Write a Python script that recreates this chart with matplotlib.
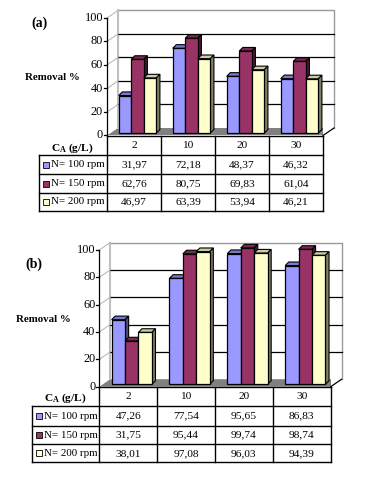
import matplotlib
matplotlib.use("Agg")
import matplotlib.pyplot as plt

plt.rcParams['font.family'] = ['Liberation Serif', 'DejaVu Serif']
plt.rcParams['mathtext.fontset'] = 'custom'
plt.rcParams['mathtext.rm'] = 'Liberation Serif'
plt.rcParams['mathtext.it'] = 'Liberation Serif:italic'
plt.rcParams['mathtext.bf'] = 'Liberation Serif:bold'

W, H = 377, 490

categories = ['2', '10', '20', '30']
series_names = ['N= 100 rpm', 'N= 150 rpm', 'N= 200 rpm']
yticks = [0, 20, 40, 60, 80, 100]

values_a = [[31.97, 72.18, 48.37, 46.32],
            [62.76, 80.75, 69.83, 61.04],
            [46.97, 63.39, 53.94, 46.21]]
labels_a = [['31,97', '72,18', '48,37', '46,32'],
            ['62,76', '80,75', '69,83', '61,04'],
            ['46,97', '63,39', '53,94', '46,21']]

values_b = [[47.26, 77.54, 95.65, 86.83],
            [31.75, 95.44, 99.74, 98.74],
            [38.01, 97.08, 96.03, 94.39]]
labels_b = [['47,26', '77,54', '95,65', '86,83'],
            ['31,75', '95,44', '99,74', '98,74'],
            ['38,01', '97,08', '96,03', '94,39']]

# front, top, side
colors = [('#9999FF', '#7A7ACC', '#4C4C80'),
          ('#993366', '#7A2952', '#4C1933'),
          ('#FFFFCC', '#CCCCA3', '#808066')]


def ftext(x, y, s, **kw):
    kw.setdefault('ha', 'center')
    kw.setdefault('va', 'center')
    fig.text(x / W, 1 - y / H, s, **kw)


def panel(left, right, y0, y100, values, labels, rows, tleft, tag, tag_xy, rem_xy, ca_xy,
          fs=8.2):
    ax = fig.add_axes([left / W, 1 - y0 / H, (right - left) / W, (y0 - y100) / H])
    ax.set_xlim(0, 4)
    ax.set_ylim(0, 100)
    ax.axis('off')
    sx = 4 / (right - left)      # data per pixel
    sy = 100 / (y0 - y100)
    dx, dy = 11 * sx, 7.5 * sy   # depth of the floor
    bx, by = 3.6 * sx, 3.6 * sy  # depth of a bar
    base = 2.4 * sy

    # walls and floor
    ax.fill([0, dx, 4 + dx, 4], [0, dy, dy, 0], color='#808080', lw=0, zorder=1)
    ax.plot([4, 4 + dx], [0, dy], color='k', lw=0.9, clip_on=False, zorder=2)
    ax.plot([dx, 4 + dx, 4 + dx], [100 + dy, 100 + dy, dy], color='#999999', lw=1.0,
            clip_on=False, zorder=1)
    ax.plot([dx, dx], [dy, 100 + dy], color='#C0C0C0', lw=1.5, clip_on=False, zorder=1)
    for t in yticks:
        if 0 < t < 100:
            ax.plot([dx, 4 + dx], [t + dy, t + dy], color='k', lw=0.9, clip_on=False, zorder=1)
        if t > 0:
            ax.plot([0, dx], [t, t + dy], color='#BBBBBB', lw=0.8, clip_on=False, zorder=1)
        ax.plot([-3 * sx, 0], [t, t], color='k', lw=0.9, clip_on=False, zorder=2)
        ax.text(-4 * sx, t, str(t), ha='right', va='center', fontsize=fs + 0.6)
    ax.plot([0, 0], [0, 100], color='k', lw=0.9, clip_on=False, zorder=2)

    # bars
    bw = 0.232
    for i, vals in enumerate(values):
        front, top, side = colors[i]
        for j, v in enumerate(vals):
            x = j + 0.5 + dx * 0.32 + (i - 1) * bw
            z = 3 + j * 3 + i
            ax.bar(x, v, bw, bottom=base, color=front, edgecolor='k', lw=0.9,
                   zorder=z + 0.5, clip_on=False)
            x0, x1 = x - bw / 2, x + bw / 2
            yt = base + v
            ax.fill([x0, x0 + bx, x1 + bx, x1], [yt, yt + by, yt + by, yt],
                    facecolor=top, edgecolor='k', lw=0.8, zorder=z, clip_on=False)
            ax.fill([x1, x1 + bx, x1 + bx, x1], [base, base + by, yt + by, yt],
                    facecolor=side, edgecolor='k', lw=0.8, zorder=z, clip_on=False)

    # table under the chart
    tl = (tleft - left) * sx
    ry = [(y0 - r) * sy for r in rows]
    line = dict(color='k', lw=1.0, clip_on=False, zorder=2)
    ax.plot([0, 4], [ry[0], ry[0]], **line)
    for r in ry[1:]:
        ax.plot([tl, 4], [r, r], **line)
    ax.plot([tl, tl], [ry[1], ry[-1]], **line)
    for c in range(5):
        ax.plot([c, c], [ry[0], ry[-1]], **line)
    for c, name in enumerate(categories):
        ax.text(c + 0.5, (ry[0] + ry[1]) / 2, name, ha='center', va='center', fontsize=fs)
    for i, row in enumerate(labels):
        ym = (ry[i + 1] + ry[i + 2]) / 2
        for c, s in enumerate(row):
            ax.text(c + 0.5, ym, s, ha='center', va='center', fontsize=fs)
        ax.bar(tl + 7 * sx, 6 * sy, 6 * sx, bottom=ym - 3 * sy, color=colors[i][0],
               edgecolor='k', lw=0.6, clip_on=False, zorder=3)
        ax.text(tl + 12.5 * sx, ym, series_names[i], ha='left', va='center', fontsize=fs - 0.3)

    ftext(*tag_xy, tag, fontsize=10, fontweight='bold')
    ftext(*rem_xy, 'Removal %', fontsize=fs - 0.4, fontweight='bold')
    ftext(*ca_xy, r'$\mathbf{C_A\ (g/L)}$', fontsize=fs)


fig = plt.figure(figsize=(W / 100, H / 100), dpi=100, facecolor='white')

panel(107, 323, 135.5, 18, values_a, labels_a, [136, 155, 174.5, 193, 211], 38.7, '(a)',
      (39, 23), (52, 78), (72, 148))
panel(99.3, 330.7, 386.7, 250, values_b, labels_b, [386.7, 406, 426, 444.3, 462.3], 31.7, '(b)',
      (34, 264), (43, 320), (65, 398))

fig.savefig('out.png', dpi=100)
